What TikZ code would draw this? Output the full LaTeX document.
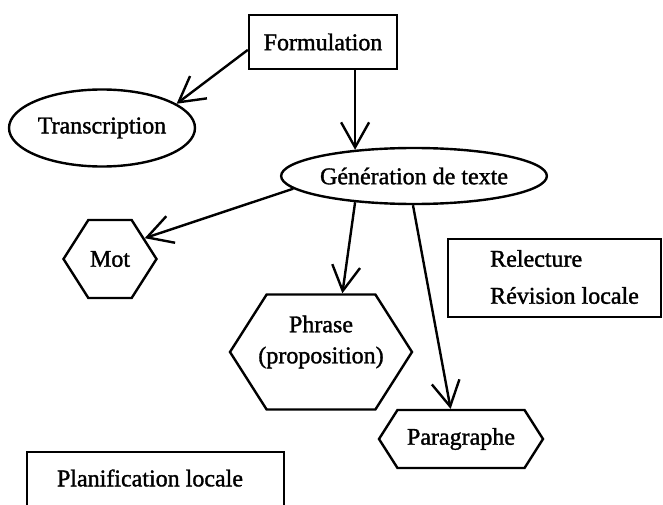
\documentclass[tikz,border=0pt]{standalone}
\usepackage{fontspec}
\setmainfont{Liberation Serif}[BoldFont=Liberation Serif, BoldFeatures={FakeBold=1.4}]
\usetikzlibrary{arrows.meta,shapes.geometric,shapes.symbols}
\begin{document}
\begin{tikzpicture}[x=1pt,y=-1pt,
  every node/.style={font=\fontsize{24}{31}\selectfont\bfseries, inner sep=0pt},
  box/.style={draw, rectangle, line width=2.4pt},
  oval/.style={draw, ellipse, line width=2.4pt},
  hexa/.style={draw, signal, signal to=east and west, signal pointer angle=115, line width=2.4pt},
  arr/.style={line width=2.4pt, -{Straight Barb[length=25pt,width=28pt,line width=2.4pt]}}
]
\clip (0,0) rectangle (663,505);
\fill[white] (0,0) rectangle (663,505);
\node[box, minimum width=148, minimum height=54] (form) at (323,42) {Formulation};
\node[oval, minimum width=186, minimum height=77] (trans) at (102,128) {Transcription};
\node[oval, minimum width=256, minimum height=56] (gen) at (414,176) {Génération de texte};
\node[hexa, minimum width=93, minimum height=78] (mot) at (110,259) {Mot};
\node[hexa, minimum width=182, minimum height=115] (phr) at (321,352) {};
\node[align=center] (phrtxt) at (321,342) {Phrase\\(proposition)};
\node[hexa, minimum width=164, minimum height=58] (para) at (461,439) {Paragraphe};
\node[box, minimum width=213, minimum height=78] (rel) at (554.5,278) {};
\node[align=left, anchor=west] (reltxt) at (490,277) {Relecture\\[6pt]Révision locale};
\node[box, minimum width=257, minimum height=62] (plan) at (155.5,483) {};
\node (plantxt) at (150,478) {Planification locale};
\draw[arr] (form.186) -- (trans.18);
\draw[arr] (gen.156 |- form.south) -- (gen.156);
\draw[arr] (gen.186) -- (mot.31);
\draw[arr] (gen.204) -- (phr.70);
\draw[arr] (gen.268) -- (para.109);
\end{tikzpicture}
\end{document}
